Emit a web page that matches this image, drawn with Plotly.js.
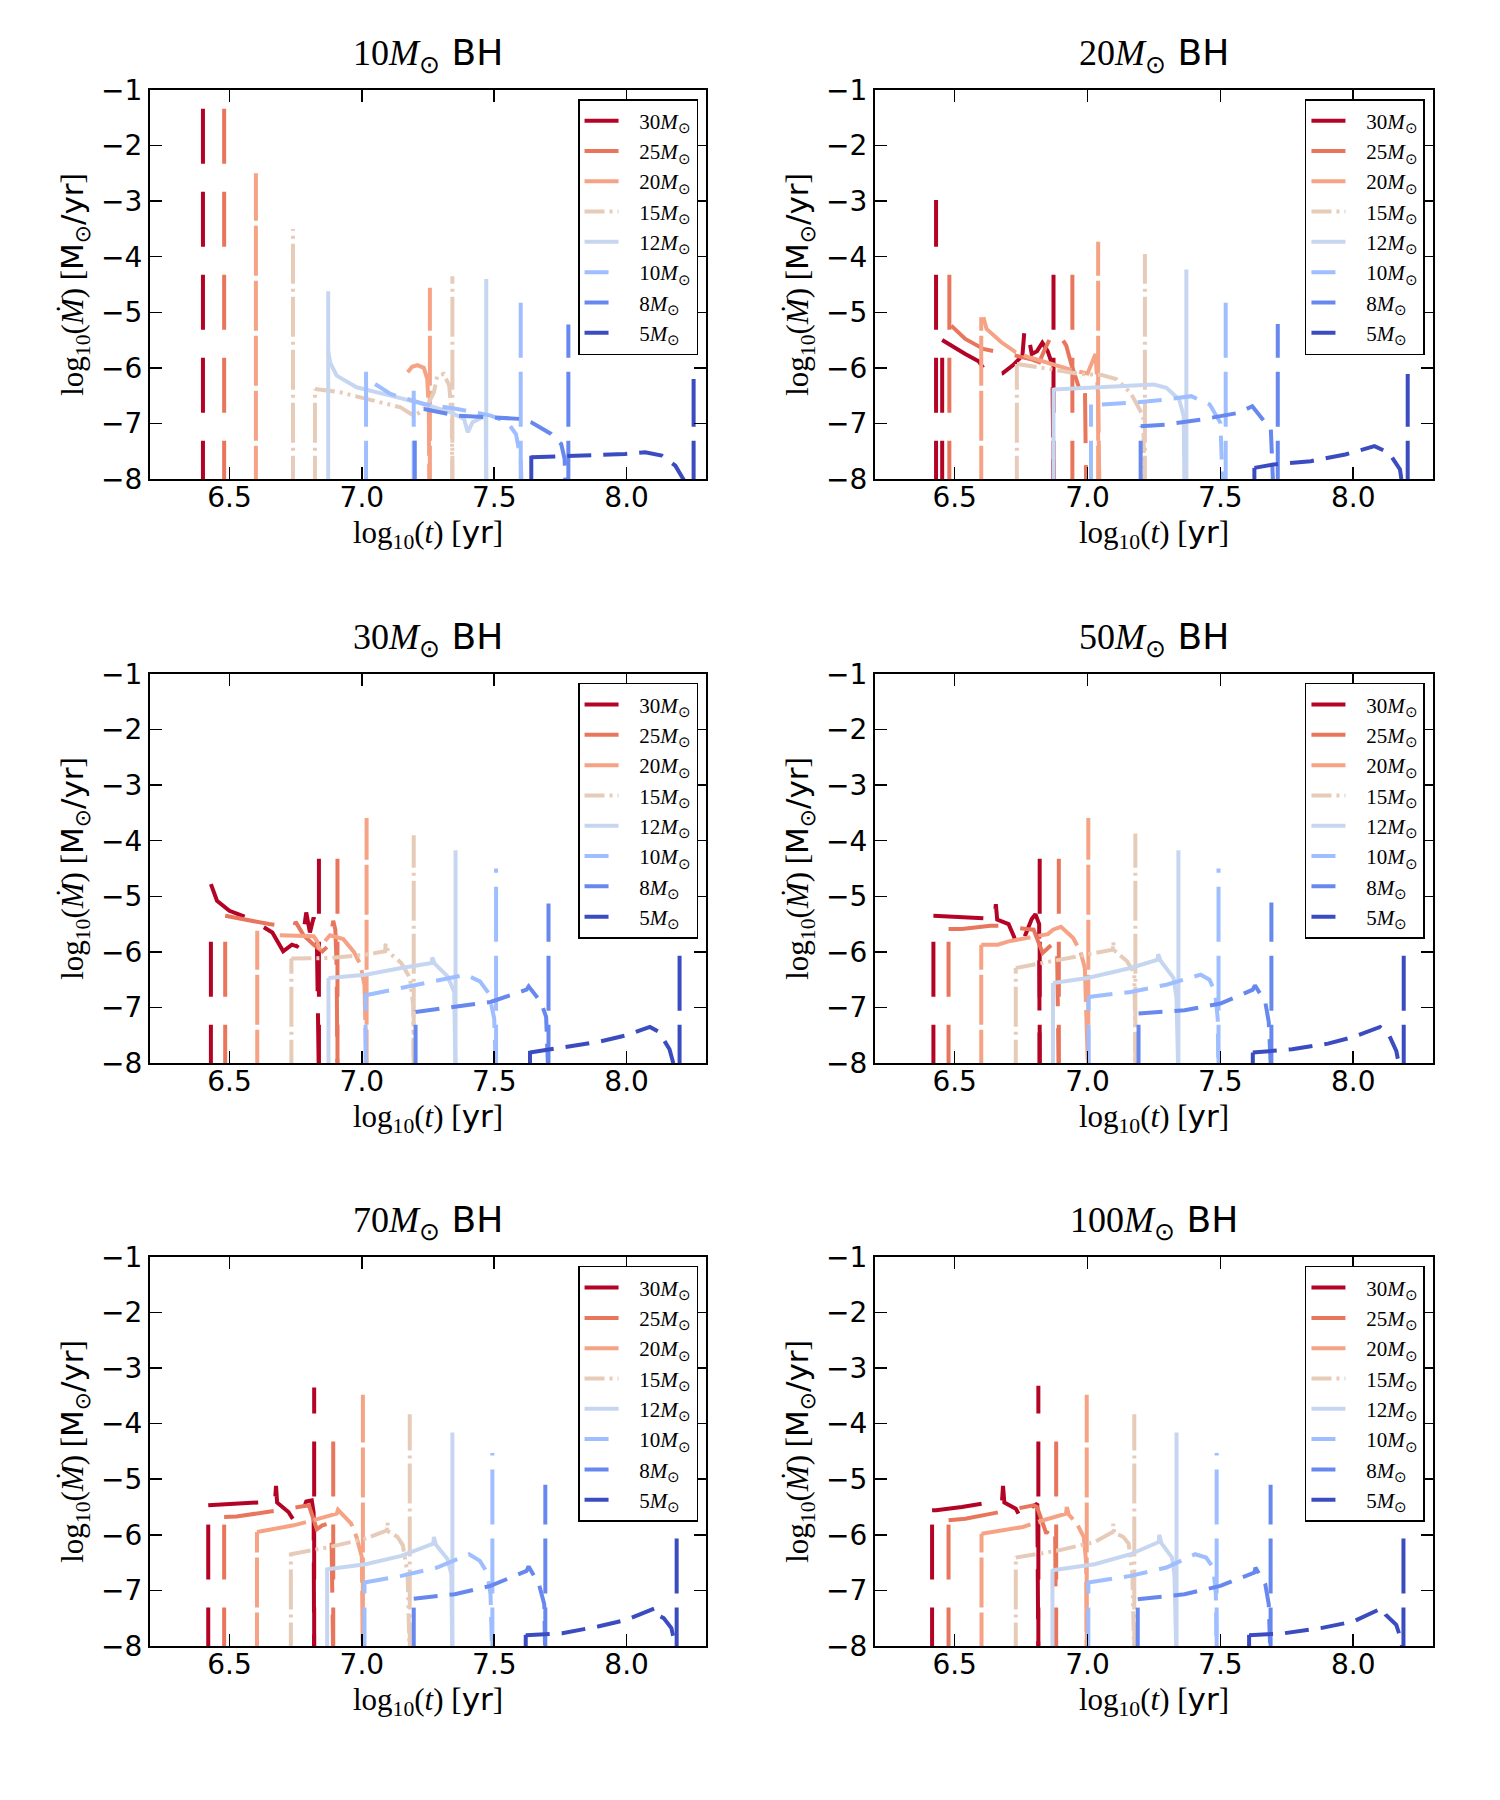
<!DOCTYPE html>
<html>
<head>
<meta charset="utf-8">
<script src="https://cdn.plot.ly/plotly-3.0.1.min.js"></script>
<style>body{margin:0;background:#fff}</style>
</head>
<body>
<div id="chart" style="width:1500px;height:1800px"></div>
<script>
// Donor star masses (legend), one colour / dash per star.
const stars = [30, 25, 20, 15, 12, 10, 8, 5];
const starColors = ["#b40426", "#e8765c", "#f5a384", "#e7cbb9", "#c6d6f1", "#9ebeff", "#6788ee", "#3b4cc0"];
const trackDash = ["50px,22px", "50px,22px", "50px,8px", "20px,5px,3px,5px,3px,5px", "solid", "24px,12px", "24px,12px", "24px,12px"];
const spikeDash = ["55px,28px", "55px,28px", "50px,5px", "40px,5px,3px,5px", "solid", "55px,14px", "55px,14px", "55px,14px"];
const bhMasses = [10, 20, 30, 50, 70, 100];

// Tracks: [log10 t, log10 Mdot] per star (order as `stars`).
// Spikes: vertical strokes rising from below the axis, [log10 t, top].
const bh10Tracks = [
  [],
  [],
  [[7.173,-6.08],[7.19,-5.98],[7.21,-5.95],[7.234,-6.0],[7.247,-6.2],[7.253,-6.74],[7.255,-8.3]],
  [[6.823,-6.38],[6.918,-6.44],[7.044,-6.59],[7.146,-6.71],[7.196,-6.86],[7.22,-6.8],[7.247,-6.68],[7.272,-6.44],[7.285,-6.14],[7.31,-6.11],[7.33,-6.32],[7.34,-6.9],[7.342,-8.3]],
  [[6.873,-5.7],[6.88,-5.9],[6.905,-6.14],[6.98,-6.35],[7.108,-6.5],[7.234,-6.65],[7.335,-6.8],[7.386,-6.92],[7.4,-7.16],[7.418,-6.98],[7.456,-6.89],[7.468,-6.85],[7.47,-8.3]],
  [[7.05,-6.29],[7.108,-6.47],[7.234,-6.65],[7.36,-6.74],[7.487,-6.86],[7.55,-6.98],[7.582,-7.19],[7.6,-7.64],[7.605,-8.3]],
  [[7.234,-6.74],[7.36,-6.86],[7.487,-6.89],[7.6,-6.92],[7.64,-6.98],[7.715,-7.19],[7.753,-7.37],[7.766,-7.64],[7.77,-8.3]],
  [[7.64,-7.61],[7.74,-7.59],[7.867,-7.58],[7.994,-7.55],[8.07,-7.52],[8.133,-7.58],[8.184,-7.76],[8.22,-8.05]],
];
const bh10Spikes = [
  [[6.4,-0.5]],
  [[6.48,-0.5]],
  [[6.6,-2.5],[7.257,-4.56]],
  [[6.74,-3.5],[6.823,-6.38],[7.342,-4.35]],
  [[6.873,-4.62],[7.47,-4.4]],
  [[7.016,-5.96],[7.196,-6.41],[7.6,-4.62]],
  [[7.2,-7.3],[7.78,-5.22]],
  [[7.64,-7.58],[8.253,-6.2]],
];

const bh20Tracks = [
  [[6.453,-5.5],[6.47,-5.55],[6.49,-5.6],[6.54,-5.75],[6.59,-5.88],[6.615,-6.05],[6.64,-6.14],[6.68,-6.1],[6.72,-5.95],[6.755,-5.78],[6.763,-5.3],[6.775,-5.35],[6.79,-5.75],[6.81,-5.7],[6.83,-5.55],[6.85,-5.7],[6.868,-5.95],[6.872,-8.3]],
  [[6.487,-5.24],[6.54,-5.48],[6.608,-5.66],[6.67,-5.73],[6.73,-5.78],[6.784,-5.84],[6.818,-5.9],[6.84,-5.66],[6.87,-5.36],[6.9,-5.45],[6.92,-5.6],[6.94,-5.95],[6.966,-6.33],[6.99,-6.2],[6.995,-8.3]],
  [[6.608,-5.09],[6.62,-5.3],[6.676,-5.54],[6.73,-5.72],[6.78,-5.81],[6.83,-5.88],[6.89,-5.96],[6.95,-6.05],[7.0,-6.1],[7.03,-5.75],[7.04,-6.5],[7.045,-8.3]],
  [[6.734,-5.93],[6.865,-6.02],[6.973,-6.11],[7.054,-6.13],[7.108,-6.2],[7.162,-6.45],[7.19,-6.69],[7.21,-6.87],[7.214,-8.3]],
  [[6.872,-6.39],[7.027,-6.36],[7.16,-6.33],[7.25,-6.3],[7.297,-6.36],[7.345,-6.57],[7.362,-6.87],[7.365,-8.3]],
  [[7.054,-6.66],[7.16,-6.63],[7.297,-6.57],[7.39,-6.51],[7.46,-6.66],[7.5,-6.99],[7.51,-8.3]],
  [[7.2,-7.05],[7.297,-7.02],[7.43,-6.93],[7.568,-6.81],[7.62,-6.69],[7.69,-7.11],[7.7,-8.3]],
  [[7.628,-7.8],[7.7,-7.74],[7.84,-7.68],[7.97,-7.56],[8.08,-7.41],[8.135,-7.53],[8.176,-7.83],[8.19,-8.3]],
];
const bh20Spikes = [
  [[6.43,-2.98],[6.453,-5.5],[6.872,-3.83]],
  [[6.48,-3.83],[6.943,-3.83]],
  [[6.6,-5.09],[7.04,-3.73]],
  [[6.734,-5.93],[7.216,-3.95]],
  [[6.872,-6.36],[7.372,-4.23]],
  [[7.013,-6.66],[7.52,-4.58]],
  [[7.2,-7.05],[7.716,-5.21]],
  [[7.628,-7.8],[8.205,-6.11]],
];

const bh30Tracks = [
  [[6.43,-4.78],[6.453,-5.08],[6.5,-5.26],[6.58,-5.41],[6.662,-5.65],[6.703,-5.99],[6.736,-5.87],[6.755,-5.9],[6.777,-5.75],[6.79,-5.29],[6.804,-5.65],[6.818,-5.38],[6.83,-5.75],[6.838,-8.3]],
  [[6.484,-5.35],[6.554,-5.41],[6.65,-5.5],[6.743,-5.56],[6.75,-5.46],[6.78,-5.7],[6.818,-5.87],[6.851,-5.99],[6.878,-5.87],[6.892,-5.44],[6.9,-5.6],[6.905,-6.3],[6.908,-8.3]],
  [[6.69,-5.7],[6.818,-5.72],[6.83,-5.8],[6.84,-5.95],[6.865,-5.78],[6.88,-5.7],[6.93,-5.77],[6.97,-6.0],[6.995,-6.23],[7.01,-6.6],[7.018,-8.3]],
  [[6.734,-6.12],[6.878,-6.11],[7.014,-6.05],[7.088,-5.99],[7.09,-5.85],[7.1,-6.0],[7.149,-6.2],[7.182,-6.47],[7.194,-6.96],[7.196,-8.3]],
  [[6.874,-6.47],[7.014,-6.41],[7.149,-6.29],[7.264,-6.2],[7.266,-6.1],[7.275,-6.21],[7.324,-6.44],[7.349,-6.72],[7.354,-8.3]],
  [[7.014,-6.78],[7.149,-6.65],[7.284,-6.53],[7.392,-6.41],[7.446,-6.53],[7.48,-6.75],[7.5,-7.2],[7.507,-8.3]],
  [[7.203,-7.08],[7.351,-6.99],[7.486,-6.9],[7.622,-6.68],[7.63,-6.62],[7.676,-6.9],[7.696,-7.17],[7.705,-8.3]],
  [[7.635,-7.81],[7.757,-7.72],[7.892,-7.62],[8.0,-7.5],[8.088,-7.35],[8.122,-7.44],[8.162,-7.75],[8.182,-8.1]],
];
const bh30Spikes = [
  [[6.43,-5.35],[6.838,-3.85]],
  [[6.484,-5.35],[6.908,-3.85]],
  [[6.605,-5.62],[7.018,-3.59]],
  [[6.734,-6.12],[7.196,-3.9]],
  [[6.874,-6.47],[7.354,-4.17]],
  [[7.014,-6.75],[7.507,-4.5]],
  [[7.203,-7.05],[7.705,-5.13]],
  [[7.635,-7.78],[8.2,-6.05]],
];

const bh50Tracks = [
  [[6.42,-5.35],[6.514,-5.37],[6.622,-5.4],[6.65,-5.42],[6.655,-5.14],[6.66,-5.42],[6.703,-5.5],[6.723,-5.72],[6.736,-5.93],[6.764,-5.72],[6.79,-5.41],[6.804,-5.32],[6.818,-5.5],[6.82,-8.3]],
  [[6.477,-5.59],[6.527,-5.59],[6.635,-5.53],[6.676,-5.53],[6.77,-5.59],[6.797,-5.6],[6.831,-6.02],[6.865,-5.87],[6.885,-5.81],[6.892,-8.3]],
  [[6.6,-5.87],[6.662,-5.87],[6.703,-5.81],[6.851,-5.68],[6.87,-5.6],[6.9,-5.55],[6.946,-5.75],[6.973,-5.99],[6.99,-6.29],[7.003,-8.3]],
  [[6.73,-6.29],[6.892,-6.14],[7.0,-6.05],[7.095,-5.96],[7.097,-5.82],[7.1,-5.97],[7.149,-6.17],[7.176,-6.38],[7.178,-6.95],[7.18,-8.3]],
  [[6.87,-6.56],[7.0,-6.47],[7.162,-6.29],[7.264,-6.14],[7.266,-6.04],[7.275,-6.16],[7.324,-6.47],[7.335,-6.84],[7.342,-8.3]],
  [[7.004,-6.81],[7.162,-6.72],[7.297,-6.59],[7.426,-6.41],[7.459,-6.5],[7.48,-6.72],[7.49,-7.2],[7.493,-8.3]],
  [[7.192,-7.11],[7.365,-7.05],[7.5,-6.93],[7.622,-6.68],[7.63,-6.6],[7.669,-6.9],[7.682,-7.26],[7.692,-8.3]],
  [[7.622,-7.81],[7.77,-7.75],[7.905,-7.65],[8.0,-7.53],[8.101,-7.35],[8.135,-7.5],[8.162,-7.78],[8.175,-8.1]],
];
const bh50Spikes = [
  [[6.42,-5.35],[6.82,-3.85]],
  [[6.477,-5.59],[6.892,-3.85]],
  [[6.6,-5.87],[7.003,-3.59]],
  [[6.73,-6.29],[7.18,-3.87]],
  [[6.87,-6.56],[7.342,-4.17]],
  [[7.004,-6.81],[7.493,-4.5]],
  [[7.192,-7.11],[7.692,-5.11]],
  [[7.622,-7.81],[8.19,-5.99]],
];

const bh70Tracks = [
  [[6.42,-5.47],[6.514,-5.44],[6.635,-5.4],[6.672,-5.4],[6.676,-5.12],[6.68,-5.42],[6.723,-5.59],[6.743,-5.74],[6.77,-5.68],[6.79,-5.4],[6.811,-5.38],[6.818,-5.6],[6.82,-8.3]],
  [[6.48,-5.68],[6.527,-5.67],[6.642,-5.59],[6.784,-5.47],[6.8,-5.47],[6.83,-5.9],[6.851,-5.83],[6.872,-5.8],[6.885,-5.85],[6.892,-8.3]],
  [[6.604,-5.95],[6.743,-5.83],[6.838,-5.71],[6.905,-5.62],[6.91,-5.55],[6.93,-5.65],[6.96,-5.8],[6.98,-6.04],[7.0,-6.4],[7.004,-8.3]],
  [[6.732,-6.35],[6.878,-6.22],[7.014,-6.07],[7.095,-5.92],[7.097,-5.78],[7.1,-5.94],[7.135,-6.04],[7.155,-6.19],[7.173,-6.71],[7.181,-8.3]],
  [[6.869,-6.62],[7.014,-6.53],[7.149,-6.38],[7.27,-6.16],[7.272,-6.04],[7.28,-6.18],[7.324,-6.44],[7.338,-6.71],[7.342,-8.3]],
  [[7.01,-6.86],[7.149,-6.74],[7.284,-6.59],[7.405,-6.35],[7.446,-6.47],[7.473,-6.68],[7.486,-7.07],[7.493,-8.3]],
  [[7.196,-7.15],[7.351,-7.07],[7.486,-6.92],[7.622,-6.65],[7.63,-6.57],[7.669,-6.89],[7.689,-7.25],[7.693,-8.3]],
  [[7.619,-7.81],[7.757,-7.77],[7.892,-7.65],[8.0,-7.53],[8.108,-7.32],[8.115,-7.44],[8.14,-7.5],[8.169,-7.68],[8.182,-7.95],[8.186,-8.3]],
];
const bh70Spikes = [
  [[6.42,-5.47],[6.82,-3.35]],
  [[6.48,-5.68],[6.892,-3.89]],
  [[6.604,-5.95],[7.004,-3.48]],
  [[6.732,-6.32],[7.181,-3.83]],
  [[6.869,-6.59],[7.342,-4.16]],
  [[7.01,-6.83],[7.493,-4.53]],
  [[7.196,-7.13],[7.693,-5.1]],
  [[7.619,-7.8],[8.189,-6.04]],
];

const bh100Tracks = [
  [[6.415,-5.56],[6.43,-5.56],[6.527,-5.5],[6.642,-5.41],[6.678,-5.41],[6.682,-5.12],[6.687,-5.42],[6.73,-5.53],[6.75,-5.71],[6.77,-5.65],[6.79,-5.5],[6.811,-5.44],[6.815,-8.3]],
  [[6.477,-5.74],[6.54,-5.71],[6.649,-5.61],[6.797,-5.47],[6.81,-5.5],[6.845,-5.98],[6.865,-5.8],[6.878,-5.86],[6.882,-8.3]],
  [[6.601,-5.98],[6.757,-5.86],[6.811,-5.77],[6.919,-5.62],[6.922,-5.5],[6.93,-5.64],[6.96,-5.8],[6.986,-6.04],[6.995,-6.5],[6.997,-8.3]],
  [[6.73,-6.41],[6.892,-6.28],[7.027,-6.13],[7.095,-5.95],[7.097,-5.8],[7.1,-5.96],[7.135,-6.04],[7.155,-6.16],[7.169,-6.71],[7.176,-8.3]],
  [[6.868,-6.64],[7.027,-6.53],[7.162,-6.35],[7.268,-6.13],[7.27,-6.0],[7.278,-6.15],[7.318,-6.41],[7.327,-6.71],[7.335,-8.3]],
  [[7.003,-6.86],[7.162,-6.74],[7.297,-6.59],[7.405,-6.35],[7.446,-6.41],[7.473,-6.59],[7.483,-7.07],[7.486,-8.3]],
  [[7.189,-7.16],[7.365,-7.07],[7.5,-6.92],[7.628,-6.68],[7.632,-6.59],[7.669,-6.89],[7.682,-7.25],[7.689,-8.3]],
  [[7.608,-7.81],[7.743,-7.77],[7.878,-7.68],[8.0,-7.56],[8.108,-7.32],[8.122,-7.44],[8.162,-7.62],[8.182,-7.92],[8.186,-8.3]],
];
const bh100Spikes = [
  [[6.415,-5.56],[6.815,-3.32]],
  [[6.477,-5.74],[6.882,-3.89]],
  [[6.601,-5.98],[6.997,-3.48]],
  [[6.73,-6.38],[7.176,-3.83]],
  [[6.868,-6.62],[7.335,-4.16]],
  [[7.003,-6.83],[7.486,-4.53]],
  [[7.189,-7.13],[7.689,-5.1]],
  [[7.608,-7.8],[8.189,-6.04]],
];

const panelTracks = [bh10Tracks, bh20Tracks, bh30Tracks, bh50Tracks, bh70Tracks, bh100Tracks];
const panelSpikes = [bh10Spikes, bh20Spikes, bh30Spikes, bh50Spikes, bh70Spikes, bh100Spikes];

// Layout geometry (paper fractions of the 1500x1800 figure).
const colDomains = [[0.1, 0.4707], [0.5833, 0.9553]];
const rowDomains = [[0.7339, 0.95], [0.4094, 0.6256], [0.0856, 0.3017]];
const spikeFloor = -8.3;

const SERIF = "Liberation Serif";
const NBSP = "\u00a0";
const sunText = (m) => `<span style="font-family:${SERIF}">${m}<i>M</i><sub>⊙</sub></span>`;
const legendText = (m) => `${NBSP}${NBSP}${NBSP}${sunText(m)}`;
const xTitle = `<span style="font-family:${SERIF}">log<sub>10</sub>(<i>t</i>) [</span>yr<span style="font-family:${SERIF}">]</span>`;
const yTitle = `<span style="font-family:${SERIF}">log<sub>10</sub>(<i>Ṁ</i>) [</span>M<sub>⊙</sub>/yr<span style="font-family:${SERIF}">]</span>`;

const traces = [];
const layout = {
  width: 1500,
  height: 1800,
  margin: { l: 0, r: 0, t: 0, b: 0 },
  paper_bgcolor: "white",
  plot_bgcolor: "white",
  font: { family: "DejaVu Sans", color: "black", size: 24 },
  showlegend: true,
  annotations: [],
};

bhMasses.forEach((bh, p) => {
  const r = Math.floor(p / 2);
  const c = p % 2;
  const n = p === 0 ? "" : String(p + 1);
  const legendId = "legend" + n;

  stars.forEach((star, s) => {
    const track = panelTracks[p][s];
    const spikes = panelSpikes[p][s];
    const hasTrack = track.length > 0;

    // Vertical strokes from below the axis up to their peak.
    const sx = [];
    const sy = [];
    spikes.forEach(([x, top]) => {
      sx.push(x, x, null);
      sy.push(spikeFloor, top, null);
    });
    traces.push({
      type: "scatter",
      mode: "lines",
      x: sx,
      y: sy,
      xaxis: "x" + n,
      yaxis: "y" + n,
      line: { color: starColors[s], width: 4, dash: spikeDash[s] },
      name: legendText(star),
      legend: legendId,
      legendgroup: "s" + star,
      showlegend: !hasTrack,
      hoverinfo: "skip",
    });

    if (hasTrack) {
      traces.push({
        type: "scatter",
        mode: "lines",
        x: track.map((d) => d[0]),
        y: track.map((d) => d[1]),
        xaxis: "x" + n,
        yaxis: "y" + n,
        line: { color: starColors[s], width: 4, dash: trackDash[s] },
        name: legendText(star),
        legend: legendId,
        legendgroup: "s" + star,
        showlegend: true,
        hoverinfo: "skip",
      });
    }
  });

  const axisCommon = {
    ticks: "inside",
    ticklen: 12,
    tickwidth: 1.5,
    tickcolor: "black",
    showline: true,
    linecolor: "black",
    linewidth: 2,
    mirror: "ticks",
    showgrid: false,
    zeroline: false,
    tickfont: { family: "DejaVu Sans", size: 28 },
  };

  layout["xaxis" + n] = Object.assign({}, axisCommon, {
    domain: colDomains[c],
    anchor: "y" + n,
    range: [6.2, 8.3],
    tick0: 6.5,
    dtick: 0.5,
    tickformat: ".1f",
    ticklabelstandoff: -8,
    title: { text: xTitle, font: { size: 31 }, standoff: 8 },
  });
  layout["yaxis" + n] = Object.assign({}, axisCommon, {
    domain: rowDomains[r],
    anchor: "x" + n,
    range: [-8, -1],
    dtick: 1,
    title: { text: yTitle, font: { size: 31 }, standoff: 8 },
  });

  layout[legendId] = {
    x: colDomains[c][1] - 8 / 1500,
    y: rowDomains[r][1] - 9 / 1800,
    xanchor: "right",
    yanchor: "top",
    bgcolor: "white",
    bordercolor: "black",
    borderwidth: 1.5,
    font: { family: SERIF, size: 21 },
    traceorder: "grouped",
    tracegroupgap: 0,
    itemwidth: 34,
  };

  layout.annotations.push({
    text: `${sunText(bh)} BH`,
    xref: "paper",
    yref: "paper",
    x: (colDomains[c][0] + colDomains[c][1]) / 2,
    y: rowDomains[r][1],
    xanchor: "center",
    yanchor: "bottom",
    yshift: 10,
    showarrow: false,
    font: { family: "DejaVu Sans", size: 36 },
  });
});

Plotly.newPlot("chart", traces, layout, { staticPlot: true, displayModeBar: false });
</script>
</body>
</html>
